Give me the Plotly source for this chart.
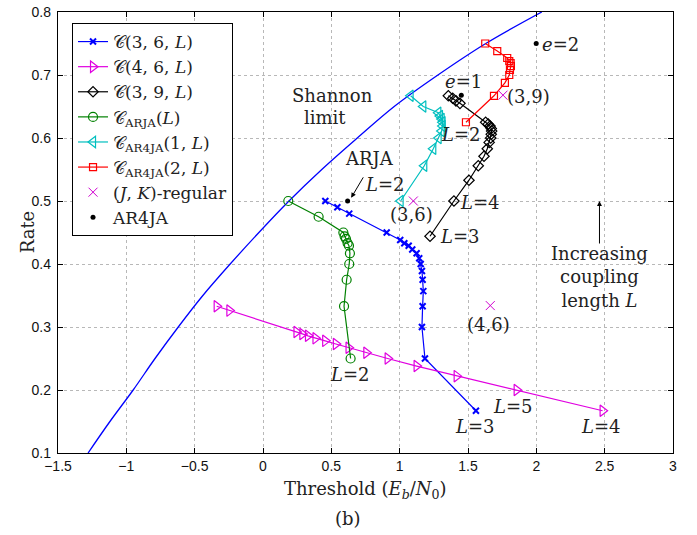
import plotly.graph_objects as go

# ---------------- data ----------------
shannon_x = [-1.28, -1.12, -0.95, -0.79, -0.62, -0.44, -0.24, -0.03, 0.19, 0.43, 0.69, 0.96, 1.28, 1.63, 2.04]
shannon_y = [0.10, 0.15, 0.20, 0.25, 0.30, 0.35, 0.40, 0.45, 0.50, 0.55, 0.60, 0.65, 0.70, 0.75, 0.80]

c36_x = [0.456, 0.544, 0.631, 0.905, 1.004, 1.034, 1.066, 1.092, 1.124, 1.143, 1.154, 1.163, 1.168, 1.173, 1.168, 1.163, 1.185, 1.558]
c36_y = [0.50, 0.49, 0.48, 0.45, 0.438, 0.433, 0.429, 0.423, 0.417, 0.409, 0.40, 0.389, 0.375, 0.357, 0.333, 0.30, 0.25, 0.167]

c46_x = [2.485, 1.856, 1.417, 1.124, 0.912, 0.756, 0.626, 0.533, 0.455, 0.384, 0.329, 0.288, 0.245, -0.246, -0.339]
c46_y = [0.167, 0.20, 0.222, 0.238, 0.25, 0.259, 0.267, 0.273, 0.278, 0.282, 0.286, 0.289, 0.292, 0.326, 0.333]

c39_x = [1.222, 1.397, 1.507, 1.575, 1.617, 1.641, 1.655, 1.666, 1.670, 1.673, 1.670, 1.661, 1.648, 1.629, 1.441, 1.412, 1.388, 1.356]
c39_y = [0.444, 0.50, 0.533, 0.556, 0.571, 0.583, 0.593, 0.60, 0.606, 0.611, 0.615, 0.619, 0.622, 0.625, 0.655, 0.659, 0.663, 0.667]

arja_x = [0.641, 0.593, 0.612, 0.631, 0.636, 0.629, 0.619, 0.607, 0.597, 0.588, 0.407, 0.185]
arja_y = [0.25, 0.333, 0.375, 0.40, 0.417, 0.429, 0.433, 0.44, 0.444, 0.45, 0.475, 0.50]

ar4ja1_x = [1.007, 1.18, 1.246, 1.285, 1.307, 1.314, 1.314, 1.307, 1.295, 1.283, 1.173, 1.08]
ar4ja1_y = [0.50, 0.556, 0.583, 0.60, 0.611, 0.619, 0.625, 0.63, 0.635, 0.64, 0.65, 0.667]

ar4ja2_x = [1.485, 1.690, 1.770, 1.802, 1.807, 1.814, 1.812, 1.802, 1.787, 1.714, 1.626]
ar4ja2_y = [0.625, 0.667, 0.6875, 0.70, 0.708, 0.714, 0.719, 0.722, 0.727, 0.738, 0.75]

regular_x = [1.10, 1.756, 1.663]
regular_y = [0.50, 0.668, 0.334]

ar4ja_pts_x = [0.619, 1.451, 1.999]
ar4ja_pts_y = [0.50, 0.668, 0.75]

x_ticks = [-1.5, -1, -0.5, 0, 0.5, 1, 1.5, 2, 2.5, 3]
y_ticks = [0.1, 0.2, 0.3, 0.4, 0.5, 0.6, 0.7, 0.8]

SERIF = "DejaVu Serif"
SANS = "Liberation Sans"
CAL = "\U0001D49E"

fig = go.Figure()

fig.add_trace(go.Scatter(x=shannon_x, y=shannon_y, mode="lines", line=dict(color="#0000ff", width=1.3, shape="spline"),
                         showlegend=False, hoverinfo="skip"))

def series(x, y, name, color, symbol, size, lw=1.2, mlw=1.2):
    fig.add_trace(go.Scatter(
        x=x, y=y, mode="lines+markers", name=name,
        line=dict(color=color, width=lw),
        marker=dict(symbol=symbol, size=size, color=color, line=dict(color=color, width=mlw)),
    ))

series(c36_x, c36_y, CAL + "(3, 6, <i>L</i>)", "#0000ff", "x-thin", 6, mlw=2)
series(c46_x, c46_y, CAL + "(4, 6, <i>L</i>)", "#e000e0", "triangle-right-open", 10)
series(c39_x, c39_y, CAL + "(3, 9, <i>L</i>)", "#000000", "diamond-open", 8)
series(arja_x, arja_y, CAL + "<sub>ARJA</sub>(<i>L</i>)", "#008000", "circle-open", 9)
series(ar4ja1_x, ar4ja1_y, CAL + "<sub>AR4JA</sub>(1, <i>L</i>)", "#00bfbf", "triangle-left-open", 10)
series(ar4ja2_x, ar4ja2_y, CAL + "<sub>AR4JA</sub>(2, <i>L</i>)", "#ff0000", "square-open", 7)

fig.add_trace(go.Scatter(x=regular_x, y=regular_y, mode="markers", name="(<i>J</i>, <i>K</i>)-regular",
                         marker=dict(symbol="x-thin", size=9, color="#d000d0", line=dict(color="#d000d0", width=1))))
fig.add_trace(go.Scatter(x=ar4ja_pts_x, y=ar4ja_pts_y, mode="markers", name="AR4JA",
                         marker=dict(symbol="circle", size=5, color="#000000")))

ann_font = dict(family=SERIF, size=18, color="#222222")
texts = [
    ("Shannon", 0.505, 0.668), ("limit", 0.456, 0.632),
    ("ARJA", 0.778, 0.568),
    ("<i>e</i>=1", 1.465, 0.689), ("(3,9)", 1.946, 0.666), ("<i>e</i>=2", 2.175, 0.749),
    ("<i>L</i>=2", 1.451, 0.605), ("(3,6)", 1.085, 0.478),
    ("<i>L</i>=4", 1.590, 0.497), ("<i>L</i>=3", 1.441, 0.4436),
    ("(4,6)", 1.648, 0.3035), ("<i>L</i>=2", 0.639, 0.2242),
    ("<i>L</i>=5", 1.831, 0.174), ("<i>L</i>=3", 1.553, 0.142), ("<i>L</i>=4", 2.471, 0.142),
    ("Increasing<br>coupling<br>length <i>L</i>", 2.465, 0.379),
]
annotations = [dict(x=x, y=y, xref="x", yref="y", text=t, showarrow=False, font=ann_font, align="center")
               for t, x, y in texts]

# arrows
annotations.append(dict(x=0.645, y=0.505, xref="x", yref="y", text="", showarrow=True,
                        ax=13, ay=-22, arrowhead=2, arrowsize=1, arrowwidth=1, arrowcolor="#000000"))
annotations.append(dict(x=0.892, y=0.5256, xref="x", yref="y", text="<i>L</i>=2", showarrow=False, font=ann_font))
annotations.append(dict(x=2.462, y=0.500, xref="x", yref="y", text="", showarrow=True,
                        ax=0, ay=44, arrowhead=2, arrowsize=1, arrowwidth=1, arrowcolor="#000000"))

# axis titles and caption
annotations.append(dict(x=0.4997, y=-0.083, xref="paper", yref="paper",
                        text="Threshold (<i>E</i><sub><i>b</i></sub>/<i>N</i><sub>0</sub>)",
                        showarrow=False, font=ann_font, yanchor="middle"))
annotations.append(dict(x=0.472, y=-0.149, xref="paper", yref="paper", text="(b)",
                        showarrow=False, font=ann_font, yanchor="middle"))
annotations.append(dict(x=-0.05, y=0.501, xref="paper", yref="paper", text="Rate", textangle=-90,
                        showarrow=False, font=ann_font, xanchor="center", yanchor="middle"))

axis_common = dict(showline=True, linecolor="#000000", linewidth=1.3, mirror="ticks", ticks="inside",
                   ticklen=5, tickcolor="#000000", showgrid=True, gridcolor="#b8b8b8", griddash="dot",
                   gridwidth=1, zeroline=False, automargin=False,
                   tickfont=dict(family=SANS, size=14, color="#111111"))

fig.update_layout(
    width=697, height=535,
    margin=dict(l=58, r=24, t=12, b=82, autoexpand=False),
    paper_bgcolor="white", plot_bgcolor="white",
    xaxis=dict(range=[-1.5, 3], tickvals=x_ticks, **axis_common),
    yaxis=dict(range=[0.1, 0.8], tickvals=y_ticks, ticklabelstandoff=3, **axis_common),
    legend=dict(x=0.0228, y=0.975, xanchor="left", yanchor="top", bgcolor="white",
                bordercolor="#000000", borderwidth=1, font=dict(family=SERIF, size=17, color="#222222"),
                itemwidth=30, tracegroupgap=0),
    annotations=annotations,
    showlegend=True,
)

fig.write_html("out.html", config={"displayModeBar": False},
               post_script="document.body.style.margin='0px';document.body.style.padding='0px';")
